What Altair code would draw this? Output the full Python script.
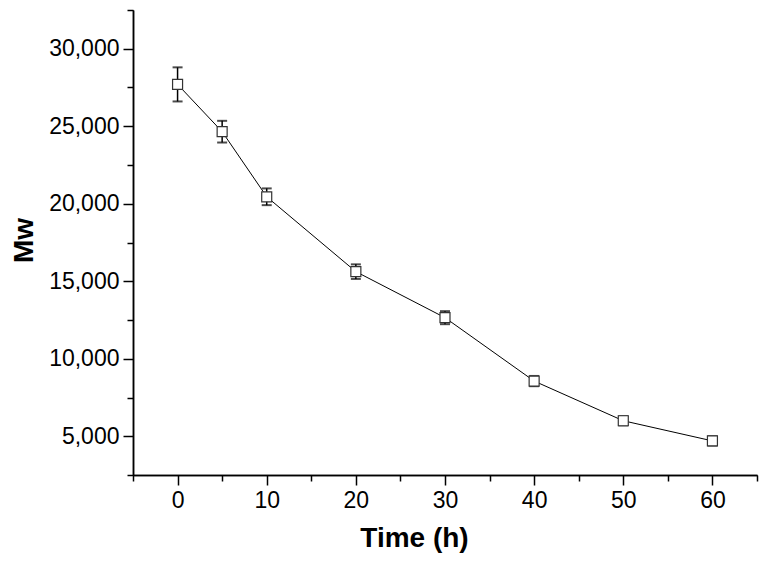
import altair as alt
import pandas as pd

time_h = [0, 5, 10, 20, 30, 40, 50, 60]
mw = [27700, 24650, 20450, 15620, 12650, 8560, 6000, 4700]
mw_err = [1100, 700, 540, 470, 420, 330, 300, 300]

x_major = [0, 10, 20, 30, 40, 50, 60]
x_minor = [-5, 5, 15, 25, 35, 45, 55, 65]
y_major = [5000, 10000, 15000, 20000, 25000, 30000]
y_minor = [2500, 7500, 12500, 17500, 22500, 27500, 32500]

df = pd.DataFrame({"t": time_h, "mw": mw, "err": mw_err})
df["lo"] = df["mw"] - df["err"]
df["hi"] = df["mw"] + df["err"]

FONT = "Liberation Sans"
xs = alt.Scale(domain=[-5, 65], nice=False, zero=False)
ys = alt.Scale(domain=[2500, 32500], nice=False, zero=False)

x_axis_major = alt.Axis(values=x_major, tickSize=10, labelPadding=4, title="Time (h)",
                        labelExpr="format(datum.value, 'd')",
                        titleX=281, titleY=71, titleBaseline="alphabetic", orient="bottom")
y_axis_major = alt.Axis(values=y_major, tickSize=10, labelPadding=4, title="Mw",
                        labelExpr="format(datum.value, ',')",
                        titleX=-101, titleY=230, titleBaseline="alphabetic", titleAngle=270,
                        orient="left")
x_axis_minor = alt.Axis(values=x_minor, tickSize=6, labels=False, title=None, orient="bottom")
y_axis_minor = alt.Axis(values=y_minor, tickSize=6, labels=False, title=None, orient="left")

base = alt.Chart(df)

line = base.mark_line(color="black", strokeWidth=1).encode(
    x=alt.X("t:Q", scale=xs, axis=x_axis_major),
    y=alt.Y("mw:Q", scale=ys, axis=y_axis_major),
)
rules = base.mark_rule(color="black", strokeWidth=1.5).encode(
    x=alt.X("t:Q", scale=xs, axis=x_axis_minor),
    y=alt.Y("lo:Q", scale=ys, axis=y_axis_minor),
    y2="hi:Q",
)
caps_hi = base.mark_tick(color="black", size=10, thickness=2, orient="horizontal").encode(
    x=alt.X("t:Q", scale=xs, axis=None),
    y=alt.Y("hi:Q", scale=ys, axis=None),
)
caps_lo = base.mark_tick(color="black", size=10, thickness=2, orient="horizontal").encode(
    x=alt.X("t:Q", scale=xs, axis=None),
    y=alt.Y("lo:Q", scale=ys, axis=None),
)
points = base.mark_point(shape="square", size=100, filled=True, fill="white",
                         stroke="#333333", strokeWidth=1.2, opacity=1).encode(
    x=alt.X("t:Q", scale=xs, axis=None),
    y=alt.Y("mw:Q", scale=ys, axis=None),
)

chart = alt.layer(line, rules, caps_hi, caps_lo, points).resolve_axis(
    x="independent", y="independent"
).properties(
    width=624, height=465,
    autosize=alt.AutoSizeParams(type="none"),
    padding={"left": 125, "top": 2, "right": 2, "bottom": 80},
    background="white",
).configure_view(stroke=None).configure_axis(
    grid=False, domainColor="black", domainWidth=1.5, tickColor="black", tickWidth=1.5,
    labelFont=FONT, labelFontSize=23, labelColor="black",
    titleFont=FONT, titleFontSize=28, titleFontWeight="bold", titleColor="black",
)

chart.save("out.html", embed_options={"renderer": "svg", "actions": False})
